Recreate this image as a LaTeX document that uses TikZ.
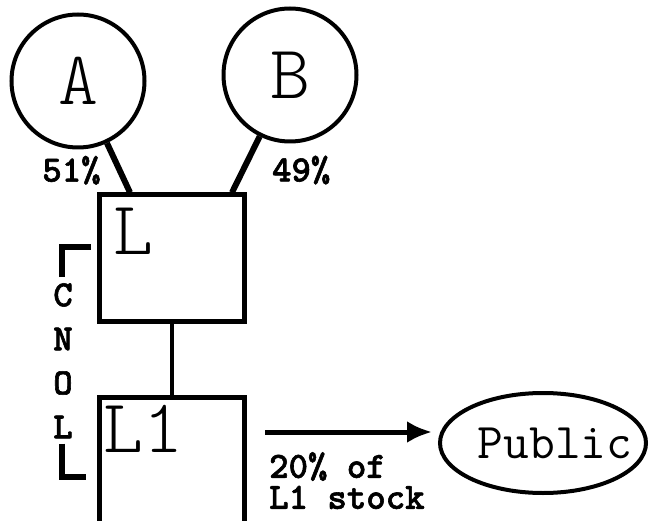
\documentclass[tikz,border=0pt]{standalone}
\usepackage{fontspec}
\usepackage{tikz}
\usetikzlibrary{positioning,shapes.geometric,arrows.meta}
\newfontfamily\heavytt{lmmonolt10-bold.otf}[FakeBold=1.6]

\begin{document}
\begin{tikzpicture}[
  x=1pt, y=1pt,
  big/.style={font=\fontsize{76}{76}\ttfamily\fontseries{l}\selectfont},
  owner/.style={circle,draw,line width=4pt,minimum size=133pt,inner sep=0pt,big},
  firm/.style={rectangle,draw,line width=5pt,minimum width=145pt,minimum height=126pt},
  tag/.style={font=\fontsize{37}{31}\heavytt,inner sep=0pt},
  link/.style={line width=6pt},
  bracket/.style={line width=5.5pt}
]
\clip (0,0) rectangle (650,520);
\node[owner] (A) at (78,439) {A};
\node[owner] (B) at (290,445) {B};
\node[firm] (L) at (172,262) {};
\node[firm,minimum height=140pt,below=71pt of L] (L1) {};
\node[big,inner sep=0pt,anchor=north west] (Lname) at ([xshift=16pt,yshift=-15pt]L.north west) {L};
\node[big,inner sep=0pt,anchor=north west] (L1name) at ([xshift=6pt,yshift=-11pt]L1.north west) {L1};
\node[ellipse,draw,line width=4pt,minimum width=206pt,minimum height=100pt] (P) at (543,77) {};
\node[font=\fontsize{50}{50}\ttfamily\selectfont,inner sep=0pt] (Pname) at ([xshift=12pt]P.center) {Public};

\draw[link] (A) -- node[tag,pos=.55,left=16pt] {51\%} ([xshift=-42pt]L.north);
\draw[link] (B) -- node[tag,pos=.6,right=26pt] {49\%} ([xshift=60pt]L.north);
\draw[line width=4.5pt] (L) -- (L1);

\foreach \ch [count=\i] in {C,N,O,L}
  \node[tag] (c\i) at (63,{269-44*\i}) {\ch};
\draw[bracket] ([xshift=-1pt,yshift=6pt]c1.north) |- ([xshift=-6pt,yshift=11pt]L.west);
\draw[bracket] ([xshift=-1pt,yshift=-5pt]c4.south) |- ([xshift=-11pt,yshift=-10pt]L1.west);

\coordinate (src) at ([xshift=18pt,yshift=35pt]L1.east);
\draw[line width=5pt,-{Latex[length=25pt,width=22pt]},shorten >=6pt] (src) -- (src -| P.west);
\node[tag,align=left,anchor=north west] (stock) at ([xshift=4pt,yshift=-20pt]src) {20\% of\\L1 stock};
\end{tikzpicture}
\end{document}
